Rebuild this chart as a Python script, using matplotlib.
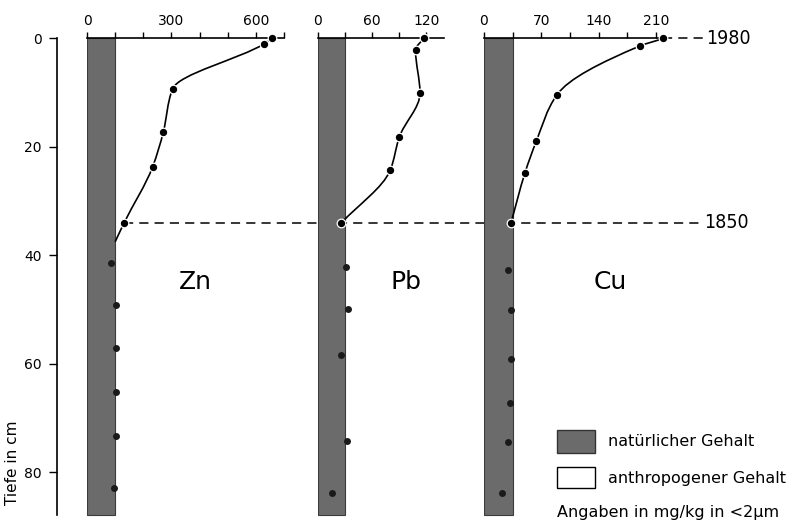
import matplotlib
matplotlib.use("Agg")
import matplotlib.pyplot as plt
from matplotlib.patches import Rectangle, PathPatch
from matplotlib.lines import Line2D
from matplotlib.path import Path
import numpy as np

# ---------------- data ----------------
elements = ["Zn", "Pb", "Cu"]
natural = [100, 30, 35]            # natürlicher Gehalt (mg/kg)
x_max = [700, 140, 220]
x_ticks = [[0, 100, 200, 300, 400, 500, 600, 700],
           [0, 30, 60, 90, 120],
           [0, 35, 70, 105, 140, 175, 210]]
x_ticklabels = [["0", "", "", "300", "", "", "600", ""],
                ["0", "", "60", "", "120"],
                ["0", "", "70", "", "140", "", "210"]]

# anthropogenic profile (1980 .. 1850)
zn_depth = [0, 1.0, 9.3, 17.3, 23.7, 34.0]
zn_vals = [657, 629, 304, 271, 233, 132]
pb_depth = [0, 2.1, 10.1, 18.2, 24.3, 34.0]
pb_vals = [117, 108, 113, 90, 80, 26]
cu_depth = [0, 1.4, 10.4, 18.9, 24.8, 34.0]
cu_vals = [219, 190, 89, 64, 50, 33]
# where the curve meets the natural background
zn_line_end = (100, 37.5)

# deeper (pre-1850) samples
zn_deep_depth = [41.4, 49.2, 57.1, 65.2, 73.3, 82.9]
zn_deep_vals = [86, 103, 103, 103, 103, 96]
pb_deep_depth = [42.1, 49.9, 58.4, 74.3, 83.9]
pb_deep_vals = [31, 33, 25, 32, 15]
cu_deep_depth = [42.7, 50.1, 59.1, 67.3, 74.5, 83.9]
cu_deep_vals = [29, 33, 33, 32, 29, 22]

depth_ticks = [0, 20, 40, 60, 80]
depth_1850 = 34.0
bar_depth = 88
year_labels = ["1980", "1850"]

# ---------------- layout ----------------
W, H = 798, 525
fig = plt.figure(figsize=(W / 100, H / 100), dpi=100)
plt.rcParams["font.family"] = ["DejaVu Sans"]

def fx(x):
    return x / W

def fy(y):
    return 1 - y / H

Y0, PXCM, DMAX = 38.5, 5.42, 89.0
BAR_COLOR = "#6b6b6b"

def add_axes(left_px, width_px):
    bottom = Y0 + DMAX * PXCM
    ax = fig.add_axes([fx(left_px), fy(bottom), width_px / W, DMAX * PXCM / H])
    ax.set_ylim(DMAX, 0)
    ax.patch.set_facecolor("none")
    return ax

def smooth_path(xs, ys):
    """Monotone (PCHIP-type) cubic through the points, x as function of depth,
    drawn as Bezier segments."""
    x = np.asarray(xs, float)
    y = np.asarray(ys, float)
    h = np.diff(y)
    d = np.diff(x) / h
    n = len(x)
    m = np.zeros(n)
    m[0], m[-1] = d[0], d[-1]
    for k in range(1, n - 1):
        if d[k - 1] * d[k] <= 0:
            m[k] = 0.0
        else:
            w1 = 2 * h[k] + h[k - 1]
            w2 = h[k] + 2 * h[k - 1]
            m[k] = (w1 + w2) / (w1 / d[k - 1] + w2 / d[k])
    verts = [(x[0], y[0])]
    codes = [Path.MOVETO]
    for k in range(n - 1):
        verts += [(x[k] + m[k] * h[k] / 3, y[k] + h[k] / 3),
                  (x[k + 1] - m[k + 1] * h[k] / 3, y[k + 1] - h[k] / 3),
                  (x[k + 1], y[k + 1])]
        codes += [Path.CURVE4] * 3
    return Path(verts, codes)

panel_px = [(87, 197), (318, 126.4), (484, 180.2)]
profiles = [(zn_vals, zn_depth, zn_deep_vals, zn_deep_depth),
            (pb_vals, pb_depth, pb_deep_vals, pb_deep_depth),
            (cu_vals, cu_depth, cu_deep_vals, cu_deep_depth)]
label_px = [(195, 282), (406, 282), (610, 282)]

axes = []
for i, el in enumerate(elements):
    ax = add_axes(*panel_px[i])
    axes.append(ax)
    ax.set_xlim(0, x_max[i])
    ax.barh(0, natural[i], height=bar_depth, left=0, align="edge",
            color=BAR_COLOR, edgecolor="#3a3a3a", linewidth=0.8, zorder=1)
    vals, dep, dvals, ddep = profiles[i]
    lx, ly = list(vals), list(dep)
    if el == "Zn":
        lx.append(zn_line_end[0]); ly.append(zn_line_end[1])
    ax.add_patch(PathPatch(smooth_path(lx, ly), facecolor="none",
                           edgecolor="black", lw=1.2, zorder=3,
                           clip_on=False))
    ax.plot(vals, dep, "o", ms=6.2, mfc="black", mec="white", mew=0.9,
            zorder=4, clip_on=False)
    ax.plot(dvals, ddep, "o", ms=5, mfc="#1a1a1a", mec="none",
            zorder=4, clip_on=False)
    for s in ["left", "right", "bottom"]:
        ax.spines[s].set_visible(False)
    ax.spines["top"].set_linewidth(1.2)
    ax.spines["top"].set_bounds(0, x_max[i])
    ax.xaxis.tick_top()
    ax.set_xticks(x_ticks[i])
    ax.set_xticklabels(x_ticklabels[i])
    ax.tick_params(axis="x", direction="out", length=4.5, width=1.0,
                   pad=3, labelsize=10)
    ax.set_yticks([])
    fig.text(fx(label_px[i][0]), fy(label_px[i][1]), el, fontsize=18,
             ha="center", va="center")

# depth axis
ay = add_axes(57, 1)
ay.set_xlim(0, 1)
for s in ["top", "right", "bottom"]:
    ay.spines[s].set_visible(False)
ay.spines["left"].set_bounds(0, 88)
ay.spines["left"].set_linewidth(1.2)
ay.set_xticks([])
ay.set_yticks(depth_ticks)
ay.set_yticklabels([str(d) for d in depth_ticks])
ay.tick_params(axis="y", direction="out", length=6, width=1.0, pad=5,
               labelsize=10)
fig.text(fx(13), fy(463), "Tiefe in cm", rotation=90, fontsize=11,
         ha="center", va="center")

# dashed time markers
inv = fig.transFigure.inverted()
def to_fig(ax, x, y):
    return inv.transform(ax.transData.transform((x, y)))

p1850 = to_fig(axes[0], zn_vals[-1], depth_1850)
p1980 = to_fig(axes[2], cu_vals[0], cu_depth[0])
fig.lines.append(Line2D([p1850[0], fx(703)], [p1850[1], p1850[1]],
                        transform=fig.transFigure, color="black", lw=1.1,
                        linestyle=(0, (6, 4)), zorder=-1))
fig.lines.append(Line2D([p1980[0], fx(705)], [p1980[1], p1980[1]],
                        transform=fig.transFigure, color="black", lw=1.1,
                        linestyle=(0, (6, 4)), zorder=-1))
fig.text(fx(706), p1980[1], year_labels[0], family="DejaVu Sans",
         fontstretch="condensed", fontsize=14, ha="left", va="center")
fig.text(fx(704), p1850[1], year_labels[1], family="DejaVu Sans",
         fontstretch="condensed", fontsize=14, ha="left", va="center")

# legend
fig.patches.append(Rectangle((fx(557), fy(453)), 38 / W, 23 / H,
                             transform=fig.transFigure, facecolor=BAR_COLOR,
                             edgecolor="#333333", lw=1))
fig.patches.append(Rectangle((fx(557), fy(488)), 38 / W, 21 / H,
                             transform=fig.transFigure, facecolor="white",
                             edgecolor="black", lw=1))
fig.text(fx(608), fy(442), "natürlicher Gehalt", fontsize=11.5,
         ha="left", va="center")
fig.text(fx(608), fy(478), "anthropogener Gehalt", fontsize=11.5,
         ha="left", va="center")
fig.text(fx(557), fy(512), "Angaben in mg/kg in <2µm", fontsize=11.5,
         ha="left", va="center")

fig.savefig("out.png", dpi=100)
